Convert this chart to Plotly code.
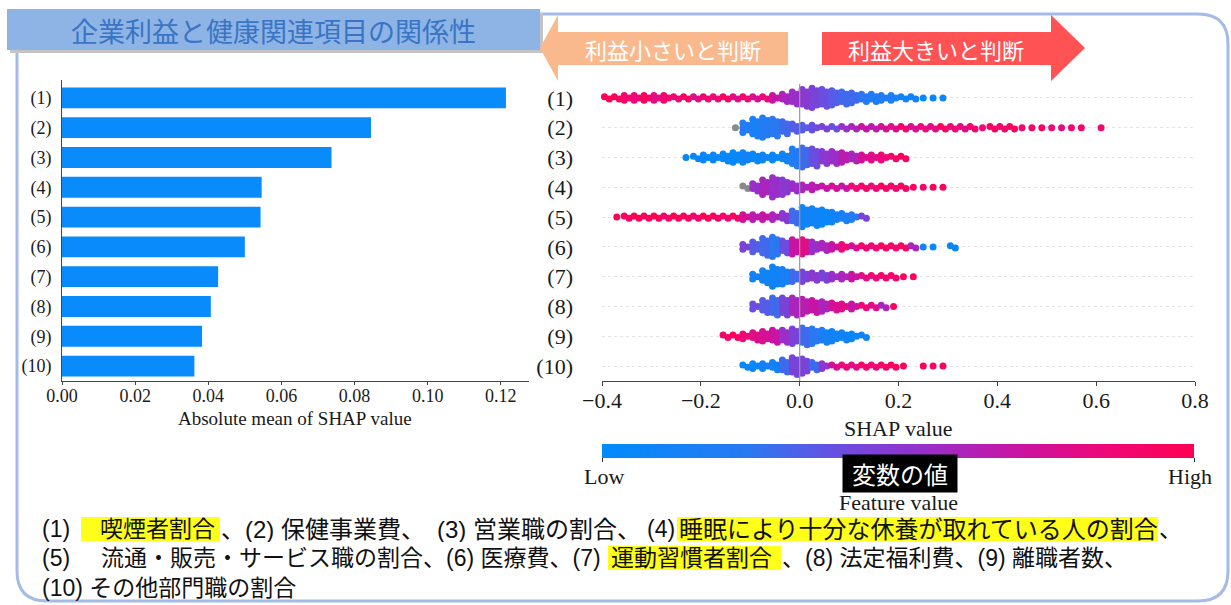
import plotly.graph_objects as go

W, H = 1231, 605


def px(x):
    return x / W


def py(y):
    return 1 - y / H


# ---------------- data ----------------
features = ["(1)", "(2)", "(3)", "(4)", "(5)", "(6)", "(7)", "(8)", "(9)", "(10)"]
mean_abs_shap = [0.1214, 0.0845, 0.0737, 0.0546, 0.0543, 0.0500, 0.0427, 0.0407, 0.0383, 0.0362]

# bin centres of the beeswarm (SHAP value)
SHAP_BINS = [-0.39, -0.37, -0.35, -0.33, -0.31, -0.29, -0.27, -0.25, -0.23, -0.21,
             -0.19, -0.17, -0.15, -0.13, -0.11, -0.09, -0.07, -0.05, -0.03, -0.01,
             0.01, 0.03, 0.05, 0.07, 0.09, 0.11, 0.13, 0.15, 0.17, 0.19,
             0.21, 0.23, 0.25, 0.27, 0.29, 0.31, 0.33, 0.35, 0.37, 0.39,
             0.41, 0.43, 0.45, 0.47, 0.49, 0.51, 0.53, 0.55, 0.57, 0.59, 0.61]

# first occupied bin of each feature row
swarm_start = [-0.39, -0.13, -0.23, -0.11, -0.37, -0.11, -0.09, -0.09, -0.15, -0.11]

# number of points stacked in each bin (per row)
swarm_counts = [
    [2, 2, 3, 3, 3, 3, 3, 2, 2, 2, 2, 2, 2, 2, 2, 2, 2, 3, 4, 6, 8, 9, 8, 7, 6, 5, 4, 4, 3, 3, 2, 2, 1, 1, 1],
    [1, 5, 8, 9, 8, 6, 4, 3, 3, 2, 2, 2, 2, 2, 2, 2, 2, 2, 2, 2, 2, 2, 2, 2, 2, 1, 2, 2, 2, 1, 1, 1, 1, 1, 1, 1, 0, 1],
    [1, 2, 3, 3, 4, 5, 5, 4, 3, 3, 4, 8, 9, 8, 6, 6, 5, 4, 3, 3, 3, 2, 2],
    [2, 4, 7, 9, 7, 4, 3, 3, 2, 2, 2, 2, 2, 2, 2, 2, 2, 1, 1, 1, 1],
    [1, 2, 2, 2, 2, 2, 2, 2, 2, 2, 2, 2, 2, 3, 3, 3, 3, 4, 6, 9, 8, 7, 5, 4, 3, 2],
    [3, 5, 8, 9, 6, 7, 7, 5, 4, 3, 3, 2, 2, 2, 2, 2, 2, 2, 1, 1, 0, 2],
    [3, 6, 9, 7, 5, 5, 4, 4, 3, 3, 3, 2, 2, 2, 2, 1, 1],
    [3, 6, 8, 8, 8, 7, 6, 5, 4, 3, 3, 2, 2, 2, 1],
    [2, 2, 3, 4, 5, 6, 6, 7, 8, 7, 6, 5, 4, 3, 2],
    [2, 3, 3, 4, 6, 8, 7, 4, 3, 2, 2, 2, 2, 2, 2, 2, 1, 0, 1, 1, 1],
]

# feature value (0 = low/blue, 1 = high/red, None = missing/grey) per bin
swarm_colors = [
    [1.0, 0.95, 0.9, 0.85, 0.95, 0.8, 0.9, 0.85, 0.95, 0.8, 0.9, 0.85, 0.95, 0.8, 0.9, 0.75, 0.85, 0.7, 0.6, 0.55,
     0.5, 0.45, 0.4, 0.35, 0.3, 0.3, 0.25, 0.2, 0.2, 0.15, 0.1, 0.1, 0.05, 0.05, 0.05],
    [None, 0.2, 0.15, 0.2, 0.25, 0.3, 0.35, 0.35, 0.4, 0.45, 0.4, 0.55, 0.6, 0.7, 0.65, 0.75, 0.8, 0.9, 0.75,
     0.85, 0.8, 0.95, 0.85, 0.8, 0.9, 0.85, 0.95, 0.9, 0.95, 0.85, 0.9, 0.95, 0.85, 0.8, 0.85, 0.9, 0.9, 0.85],
    [0.05, 0.05, 0.05, 0.05, 0.05, 0.05, 0.1, 0.05, 0.1, 0.05, 0.1, 0.2, 0.3, 0.4, 0.5, 0.55, 0.65, 0.6, 0.75,
     0.8, 0.85, 0.9, 0.95],
    [None, 0.55, 0.6, 0.55, 0.5, 0.55, 0.6, 0.65, 0.7, 0.75, 0.7, 0.85, 0.9, 0.85, 0.95, 0.9, 0.95, 0.95, 0.9,
     0.95, 0.95],
    [1.0, 0.95, 1.0, 0.95, 1.0, 0.9, 1.0, 0.95, 0.9, 1.0, 0.95, 0.9, 0.95, 0.75, 0.65, 0.7, 0.6, 0.5, 0.3, 0.1,
     0.1, 0.05, 0.1, 0.15, 0.2, 0.45],
    [0.45, 0.35, 0.3, 0.25, 0.4, 0.7, 0.8, 0.55, 0.6, 0.7, 0.85, 0.75, 0.9, 0.85, 0.95, 0.9, 0.95, 0.6, 0.1,
     0.05, 0.05, 0.05],
    [0.1, 0.1, 0.1, 0.15, 0.3, 0.45, 0.5, 0.45, 0.55, 0.6, 0.7, 0.8, 0.85, 0.9, 0.9, 0.95, 0.95],
    [0.4, 0.35, 0.3, 0.45, 0.6, 0.65, 0.7, 0.6, 0.75, 0.8, 0.7, 0.85, 0.8, 0.6, 0.95],
    [0.9, 0.95, 0.85, 0.8, 0.75, 0.7, 0.55, 0.45, 0.3, 0.25, 0.15, 0.1, 0.1, 0.05, 0.1],
    [0.05, 0.05, 0.1, 0.1, 0.3, 0.45, 0.45, 0.3, 0.5, 0.75, 0.85, 0.8, 0.9, 0.85, 0.9, 0.95, 0.95, 0.9, 0.95,
     0.9, 0.95],
]

left_xticks = [0.00, 0.02, 0.04, 0.06, 0.08, 0.10, 0.12]
right_xticks = [-0.4, -0.2, 0.0, 0.2, 0.4, 0.6, 0.8]

# ---------------- layout constants ----------------
ROW_PX = 29.8          # pixel distance between rows
PITCH = 2.4 / ROW_PX   # vertical pitch between stacked points (row units)
DX = 0.005             # half horizontal offset of the two sub-columns
MSIZE = 7
SERIF = "Liberation Serif"
JP = "Noto Sans CJK JP"
JPB = "Liberation Sans, Noto Sans CJK JP"

CS = [[0.0, "#008bfb"], [0.25, "#2a78f2"], [0.4, "#6a4ee0"], [0.55, "#9a2ec8"],
      [0.7, "#c814a4"], [0.85, "#ee0878"], [1.0, "#ff0052"]]

# build swarm point layout from the binned data
xs, ys, cs = [], [], []
gx, gy = [], []
for r in range(len(features)):
    i0 = min(range(len(SHAP_BINS)), key=lambda i: abs(SHAP_BINS[i] - swarm_start[r]))
    for k, (n, c) in enumerate(zip(swarm_counts[r], swarm_colors[r])):
        centre = SHAP_BINS[i0 + k]
        for j in range(n):
            yoff = (j - (n - 1) / 2) * PITCH
            xoff = 0 if n == 1 else (-DX if j % 2 == 0 else DX)
            if c is None:
                gx.append(centre + xoff)
                gy.append(r + yoff)
            else:
                xs.append(centre + xoff)
                ys.append(r + yoff)
                cs.append(c)

fig = go.Figure()

fig.add_trace(go.Bar(
    x=mean_abs_shap, y=list(range(len(features))), orientation="h", width=0.7,
    marker=dict(color="#0a8bfb", line=dict(width=0)), xaxis="x", yaxis="y",
    showlegend=False, hoverinfo="skip"))

fig.add_trace(go.Scatter(
    x=gx, y=gy, mode="markers", xaxis="x2", yaxis="y2", cliponaxis=False,
    marker=dict(size=MSIZE, color="#8a8a8a", line=dict(width=0)), showlegend=False, hoverinfo="skip"))

fig.add_trace(go.Scatter(
    x=xs, y=ys, mode="markers", xaxis="x2", yaxis="y2", cliponaxis=False,
    marker=dict(size=MSIZE, color=cs, colorscale=CS, cmin=0, cmax=1, line=dict(width=0),
                showscale=True,
                colorbar=dict(orientation="h", x=px((602 + 1194) / 2), xanchor="center",
                              y=py(444), yanchor="top", len=592, lenmode="pixels",
                              thickness=14, thicknessmode="pixels", outlinewidth=0,
                              xpad=0, ypad=0, tickvals=[0, 1], showticklabels=False,
                              ticks="outside", ticklen=4, tickcolor="#333")),
    showlegend=False, hoverinfo="skip"))

ydom = [py(381), py(80)]
yrange = [9.5, -0.6]

shapes = []
# outer frame
shapes.append(dict(type="path", xref="paper", yref="paper", layer="below",
                   path=f"M {px(17)},{py(14)} L {px(1198)},{py(14)} Q {px(1228)},{py(14)} {px(1228)},{py(44)} "
                        f"L {px(1228)},{py(571)} Q {px(1228)},{py(601)} {px(1198)},{py(601)} "
                        f"L {px(47)},{py(601)} Q {px(17)},{py(601)} {px(17)},{py(571)} Z",
                   line=dict(color="#a3bbe6", width=3), fillcolor="rgba(0,0,0,0)"))
# title banner with shadow
shapes.append(dict(type="rect", xref="paper", yref="paper", x0=px(10), x1=px(543), y0=py(13), y1=py(53),
                   fillcolor="#c4c4c4", line=dict(width=0)))
shapes.append(dict(type="rect", xref="paper", yref="paper", x0=px(7), x1=px(540), y0=py(9), y1=py(50),
                   fillcolor="#8db4e4", line=dict(width=0)))
# arrows
la = [(540, 48), (558, 15), (558, 32), (788, 32), (788, 65), (558, 65), (558, 81)]
shapes.append(dict(type="path", xref="paper", yref="paper",
                   path="M " + " L ".join(f"{px(a)},{py(b)}" for a, b in la) + " Z",
                   fillcolor="#fab98c", line=dict(width=0)))
ra = [(822, 32), (1051, 32), (1051, 15), (1085, 48), (1051, 81), (1051, 65), (822, 65)]
shapes.append(dict(type="path", xref="paper", yref="paper",
                   path="M " + " L ".join(f"{px(a)},{py(b)}" for a, b in ra) + " Z",
                   fillcolor="#ff5254", line=dict(width=0)))
# highlights in the legend text
for (x0, x1, y0, y1) in [(81, 220, 517, 541), (677, 1158, 517, 541), (608, 781, 546, 570)]:
    shapes.append(dict(type="rect", xref="paper", yref="paper", x0=px(x0), x1=px(x1), y0=py(y1), y1=py(y0),
                       fillcolor="#ffff1a", line=dict(width=0), layer="below"))
# zero line of the SHAP plot
shapes.append(dict(type="line", xref="x2", yref="paper", x0=0, x1=0, y0=py(381), y1=py(84),
                   line=dict(color="#9a9a9a", width=1.2), layer="above"))

ann = []


def text(t, x, y, size, color="#111111", family=JP, xanchor="left", **kw):
    ann.append(dict(text=t, x=px(x), y=py(y), xref="paper", yref="paper", showarrow=False,
                    xanchor=xanchor, yanchor="middle", font=dict(family=family, size=size, color=color), **kw))


text("企業利益と健康関連項目の関係性", 273, 30, 27, color="#3a74c4", xanchor="center")
text("利益小さいと判断", 673, 49, 22, color="#ffffff", xanchor="center")
text("利益大きいと判断", 936, 49, 22, color="#ffffff", xanchor="center")

text("Absolute mean of SHAP value", 295, 418, 19, color="#1a1a1a", family=SERIF, xanchor="center")
text("SHAP value", 898, 428, 22, color="#1a1a1a", family=SERIF, xanchor="center")
text("Low", 604, 476, 22, color="#1a1a1a", family=SERIF, xanchor="center")
text("High", 1190, 476, 22, color="#1a1a1a", family=SERIF, xanchor="center")
text("Feature value", 898, 502, 22, color="#1a1a1a", family=SERIF, xanchor="center")
text("変数の値", 900, 473, 24, color="#ffffff", xanchor="center", bgcolor="#000000", borderpad=1, width=112)

# explanation lines
L = dict(borderpad=0, height=26, family=JPB)
text("(1)", 41, 529, 23, **L)
text("喫煙者割合", 99, 529, 23, **L)
text("、(2) 保健事業費、", 220, 529, 24, **L)
text("(3) 営業職の割合、", 436, 529, 24, **L)
text("(4)", 676, 529, 23, xanchor="right", **L)
text("睡眠により十分な休養が取れている人の割合", 678, 529, 24, **L)
text("、", 1158, 529, 23, **L)
text("(5)", 41, 558, 23, **L)
text("流通・販売・サービス職の割合、(6) 医療費、(7)", 100, 558, 23, **L)
text("運動習慣者割合", 610, 558, 23, **L)
text("、(8) 法定福利費、(9) 離職者数、", 781, 558, 23, **L)
text("(10) その他部門職の割合", 41, 588, 23, **L)

fig.update_layout(
    width=W, height=H, margin=dict(l=0, r=0, t=0, b=0, autoexpand=False),
    paper_bgcolor="white", plot_bgcolor="white",
    xaxis=dict(domain=[px(62), px(528.6)], range=[0, 0.1276], tickvals=left_xticks, tickformat=".2f",
               showline=True, linecolor="#444", linewidth=1, ticks="outside", ticklen=3, tickcolor="#444",
               showgrid=False, zeroline=False, anchor="y", automargin=False, ticklabelstandoff=-5,
               tickfont=dict(family=SERIF, size=18, color="#1a1a1a")),
    yaxis=dict(domain=ydom, range=yrange, tickvals=list(range(len(features))), ticktext=features,
               showline=True, linecolor="#444", linewidth=1, ticks="", showgrid=False, zeroline=False,
               anchor="x", ticklabelstandoff=6, automargin=False,
               tickfont=dict(family=SERIF, size=18, color="#1a1a1a")),
    xaxis2=dict(domain=[px(602), px(1195)], range=[-0.4, 0.8], tickvals=right_xticks, tickformat=".1f",
                showline=True, linecolor="#444", linewidth=1, ticks="outside", ticklen=4, tickcolor="#444",
                showgrid=False, zeroline=False, anchor="y2", automargin=False, ticklabelstandoff=-4,
                tickfont=dict(family=SERIF, size=22, color="#1a1a1a")),
    yaxis2=dict(domain=ydom, range=yrange, tickvals=list(range(len(features))), ticktext=features,
                showline=False, ticks="", showgrid=True, gridcolor="#e4e4e4", griddash="dot", gridwidth=1,
                zeroline=False, anchor="x2", ticklabelstandoff=28, automargin=False,
                tickfont=dict(family=SERIF, size=22, color="#1a1a1a")),
    shapes=shapes, annotations=ann,
)

fig.write_html("out.html", config={"displayModeBar": False},
               post_script="document.body.style.margin='0';")
